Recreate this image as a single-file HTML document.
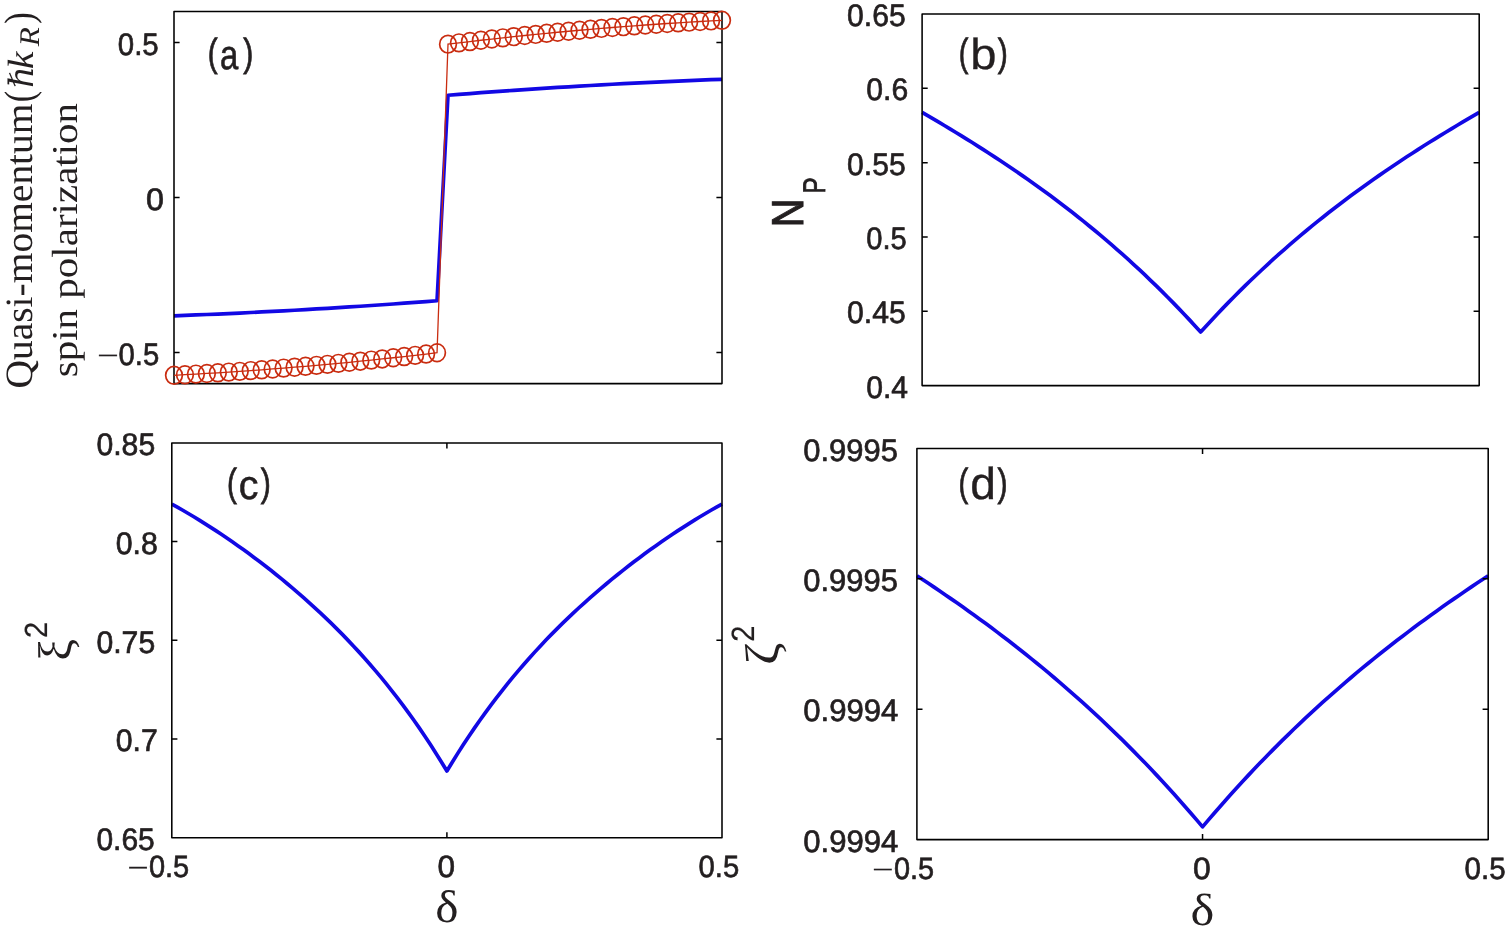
<!DOCTYPE html>
<html lang="en"><head><meta charset="utf-8"><title>Figure</title>
<style>html,body{margin:0;padding:0;background:#fff;overflow:hidden}svg{display:block}</style>
</head><body>
<svg width="1509" height="931" viewBox="0 0 1509 931" text-rendering="geometricPrecision">
<rect width="1509" height="931" fill="#fff"/>
<g id="panel-a">
<polyline points="174.00,315.81 184.96,315.39 195.92,314.96 206.88,314.51 217.84,314.04 228.80,313.55 239.76,313.04 250.72,312.52 261.68,311.97 272.64,311.41 283.60,310.83 294.56,310.23 305.52,309.61 316.48,308.97 327.44,308.31 338.40,307.64 349.36,306.94 360.32,306.23 371.28,305.50 382.24,304.75 393.20,303.98 404.16,303.19 415.12,302.39 426.08,301.56 437.04,300.72 448.00,95.24 458.96,94.38 469.92,93.54 480.88,92.71 491.84,91.91 502.80,91.12 513.76,90.35 524.72,89.60 535.68,88.87 546.64,88.16 557.60,87.46 568.56,86.79 579.52,86.13 590.48,85.49 601.44,84.87 612.40,84.27 623.36,83.69 634.32,83.13 645.28,82.58 656.24,82.06 667.20,81.55 678.16,81.06 689.12,80.59 700.08,80.14 711.04,79.71 722.00,79.29" fill="none" stroke="#1208e4" stroke-width="3.7" stroke-linejoin="round"/>
<rect x="174.00" y="11.50" width="548.00" height="372.10" fill="none" stroke="#000" stroke-width="1.55" stroke-linejoin="round"/>
<path d="M174.00 42.51h5.6M722.00 42.51h-5.6M174.00 197.55h5.6M722.00 197.55h-5.6M174.00 352.59h5.6M722.00 352.59h-5.6" fill="none" stroke="#000" stroke-width="1.5"/>
<polyline points="174.00,375.30 184.96,374.72 195.92,374.11 206.88,373.47 217.84,372.80 228.80,372.10 239.76,371.36 250.72,370.59 261.68,369.80 272.64,368.97 283.60,368.11 294.56,367.21 305.52,366.29 316.48,365.34 327.44,364.35 338.40,363.33 349.36,362.28 360.32,361.20 371.28,360.09 382.24,358.95 393.20,357.77 404.16,356.57 415.12,355.33 426.08,354.06 437.04,352.76 448.00,44.17 458.96,42.84 469.92,41.54 480.88,40.27 491.84,39.03 502.80,37.83 513.76,36.65 524.72,35.51 535.68,34.40 546.64,33.32 557.60,32.27 568.56,31.25 579.52,30.26 590.48,29.31 601.44,28.39 612.40,27.49 623.36,26.63 634.32,25.80 645.28,25.01 656.24,24.24 667.20,23.50 678.16,22.80 689.12,22.13 700.08,21.49 711.04,20.88 722.00,20.30" fill="none" stroke="#c92c10" stroke-width="1.3"/>
<g fill="none" stroke="#c92c10" stroke-width="1.7"><ellipse cx="174.00" cy="375.30" rx="8.35" ry="8.85"/><ellipse cx="184.96" cy="374.72" rx="8.35" ry="8.85"/><ellipse cx="195.92" cy="374.11" rx="8.35" ry="8.85"/><ellipse cx="206.88" cy="373.47" rx="8.35" ry="8.85"/><ellipse cx="217.84" cy="372.80" rx="8.35" ry="8.85"/><ellipse cx="228.80" cy="372.10" rx="8.35" ry="8.85"/><ellipse cx="239.76" cy="371.36" rx="8.35" ry="8.85"/><ellipse cx="250.72" cy="370.59" rx="8.35" ry="8.85"/><ellipse cx="261.68" cy="369.80" rx="8.35" ry="8.85"/><ellipse cx="272.64" cy="368.97" rx="8.35" ry="8.85"/><ellipse cx="283.60" cy="368.11" rx="8.35" ry="8.85"/><ellipse cx="294.56" cy="367.21" rx="8.35" ry="8.85"/><ellipse cx="305.52" cy="366.29" rx="8.35" ry="8.85"/><ellipse cx="316.48" cy="365.34" rx="8.35" ry="8.85"/><ellipse cx="327.44" cy="364.35" rx="8.35" ry="8.85"/><ellipse cx="338.40" cy="363.33" rx="8.35" ry="8.85"/><ellipse cx="349.36" cy="362.28" rx="8.35" ry="8.85"/><ellipse cx="360.32" cy="361.20" rx="8.35" ry="8.85"/><ellipse cx="371.28" cy="360.09" rx="8.35" ry="8.85"/><ellipse cx="382.24" cy="358.95" rx="8.35" ry="8.85"/><ellipse cx="393.20" cy="357.77" rx="8.35" ry="8.85"/><ellipse cx="404.16" cy="356.57" rx="8.35" ry="8.85"/><ellipse cx="415.12" cy="355.33" rx="8.35" ry="8.85"/><ellipse cx="426.08" cy="354.06" rx="8.35" ry="8.85"/><ellipse cx="437.04" cy="352.76" rx="8.35" ry="8.85"/><ellipse cx="448.00" cy="44.17" rx="8.35" ry="8.85"/><ellipse cx="458.96" cy="42.84" rx="8.35" ry="8.85"/><ellipse cx="469.92" cy="41.54" rx="8.35" ry="8.85"/><ellipse cx="480.88" cy="40.27" rx="8.35" ry="8.85"/><ellipse cx="491.84" cy="39.03" rx="8.35" ry="8.85"/><ellipse cx="502.80" cy="37.83" rx="8.35" ry="8.85"/><ellipse cx="513.76" cy="36.65" rx="8.35" ry="8.85"/><ellipse cx="524.72" cy="35.51" rx="8.35" ry="8.85"/><ellipse cx="535.68" cy="34.40" rx="8.35" ry="8.85"/><ellipse cx="546.64" cy="33.32" rx="8.35" ry="8.85"/><ellipse cx="557.60" cy="32.27" rx="8.35" ry="8.85"/><ellipse cx="568.56" cy="31.25" rx="8.35" ry="8.85"/><ellipse cx="579.52" cy="30.26" rx="8.35" ry="8.85"/><ellipse cx="590.48" cy="29.31" rx="8.35" ry="8.85"/><ellipse cx="601.44" cy="28.39" rx="8.35" ry="8.85"/><ellipse cx="612.40" cy="27.49" rx="8.35" ry="8.85"/><ellipse cx="623.36" cy="26.63" rx="8.35" ry="8.85"/><ellipse cx="634.32" cy="25.80" rx="8.35" ry="8.85"/><ellipse cx="645.28" cy="25.01" rx="8.35" ry="8.85"/><ellipse cx="656.24" cy="24.24" rx="8.35" ry="8.85"/><ellipse cx="667.20" cy="23.50" rx="8.35" ry="8.85"/><ellipse cx="678.16" cy="22.80" rx="8.35" ry="8.85"/><ellipse cx="689.12" cy="22.13" rx="8.35" ry="8.85"/><ellipse cx="700.08" cy="21.49" rx="8.35" ry="8.85"/><ellipse cx="711.04" cy="20.88" rx="8.35" ry="8.85"/><ellipse cx="722.00" cy="20.30" rx="8.35" ry="8.85"/></g>
</g>
<g id="panel-b">
<polyline points="922.10,112.31 927.67,115.56 933.24,118.84 938.81,122.14 944.38,125.47 949.96,128.82 955.53,132.21 961.10,135.62 966.67,139.07 972.24,142.55 977.81,146.06 983.38,149.61 988.95,153.20 994.52,156.83 1000.09,160.50 1005.67,164.21 1011.24,167.97 1016.81,171.77 1022.38,175.62 1027.95,179.51 1033.52,183.45 1039.09,187.45 1044.66,191.50 1050.23,195.60 1055.80,199.76 1061.38,203.97 1066.95,208.24 1072.52,212.57 1078.09,216.97 1083.66,221.42 1089.23,225.94 1094.80,230.53 1100.37,235.18 1105.94,239.90 1111.51,244.69 1117.09,249.55 1122.66,254.48 1128.23,259.49 1133.80,264.57 1139.37,269.73 1144.94,274.97 1150.51,280.29 1156.08,285.69 1161.65,291.17 1167.22,296.74 1172.80,302.40 1178.37,308.14 1183.94,313.97 1189.51,319.89 1195.08,325.90 1200.65,332.00 1206.22,325.90 1211.79,319.89 1217.36,313.97 1222.93,308.14 1228.51,302.40 1234.08,296.74 1239.65,291.17 1245.22,285.69 1250.79,280.29 1256.36,274.97 1261.93,269.73 1267.50,264.57 1273.07,259.49 1278.64,254.48 1284.22,249.55 1289.79,244.69 1295.36,239.90 1300.93,235.18 1306.50,230.53 1312.07,225.94 1317.64,221.42 1323.21,216.97 1328.78,212.57 1334.35,208.24 1339.93,203.97 1345.50,199.76 1351.07,195.60 1356.64,191.50 1362.21,187.45 1367.78,183.45 1373.35,179.51 1378.92,175.62 1384.49,171.77 1390.06,167.97 1395.63,164.21 1401.21,160.50 1406.78,156.83 1412.35,153.20 1417.92,149.61 1423.49,146.06 1429.06,142.55 1434.63,139.07 1440.20,135.62 1445.77,132.21 1451.35,128.82 1456.92,125.47 1462.49,122.14 1468.06,118.84 1473.63,115.56 1479.20,112.31" fill="none" stroke="#1208e4" stroke-width="3.7" stroke-linejoin="round"/>
<rect x="922.10" y="14.00" width="557.10" height="371.60" fill="none" stroke="#000" stroke-width="1.55" stroke-linejoin="round"/>
<path d="M922.10 311.28h5.6M1479.20 311.28h-5.6M922.10 236.96h5.6M1479.20 236.96h-5.6M922.10 162.64h5.6M1479.20 162.64h-5.6M922.10 88.32h5.6M1479.20 88.32h-5.6" fill="none" stroke="#000" stroke-width="1.5"/>
</g>
<g id="panel-c">
<polyline points="171.80,504.05 177.30,507.12 182.80,510.26 188.31,513.48 193.81,516.77 199.31,520.14 204.81,523.58 210.31,527.08 215.82,530.66 221.32,534.31 226.82,538.03 232.32,541.81 237.82,545.67 243.33,549.60 248.83,553.60 254.33,557.67 259.83,561.81 265.33,566.03 270.84,570.33 276.34,574.71 281.84,579.16 287.34,583.71 292.84,588.33 298.35,593.05 303.85,597.86 309.35,602.76 314.85,607.76 320.35,612.87 325.86,618.08 331.36,623.41 336.86,628.85 342.36,634.41 347.86,640.10 353.37,645.92 358.87,651.87 364.37,657.96 369.87,664.21 375.37,670.61 380.88,677.16 386.38,683.89 391.88,690.79 397.38,697.87 402.88,705.13 408.39,712.60 413.89,720.26 419.39,728.14 424.89,736.24 430.39,744.57 435.90,753.13 441.40,761.94 446.90,771.00 452.40,761.94 457.90,753.13 463.41,744.57 468.91,736.24 474.41,728.14 479.91,720.26 485.41,712.60 490.92,705.13 496.42,697.87 501.92,690.79 507.42,683.89 512.92,677.16 518.43,670.61 523.93,664.21 529.43,657.96 534.93,651.87 540.43,645.92 545.94,640.10 551.44,634.41 556.94,628.85 562.44,623.41 567.94,618.08 573.45,612.87 578.95,607.76 584.45,602.76 589.95,597.86 595.45,593.05 600.96,588.33 606.46,583.71 611.96,579.16 617.46,574.71 622.96,570.33 628.47,566.03 633.97,561.81 639.47,557.67 644.97,553.60 650.47,549.60 655.98,545.67 661.48,541.81 666.98,538.03 672.48,534.31 677.98,530.66 683.49,527.08 688.99,523.58 694.49,520.14 699.99,516.77 705.49,513.48 711.00,510.26 716.50,507.12 722.00,504.05" fill="none" stroke="#1208e4" stroke-width="3.7" stroke-linejoin="round"/>
<rect x="171.80" y="442.90" width="550.20" height="394.90" fill="none" stroke="#000" stroke-width="1.55" stroke-linejoin="round"/>
<path d="M171.80 739.08h5.6M722.00 739.08h-5.6M171.80 640.35h5.6M722.00 640.35h-5.6M171.80 541.62h5.6M722.00 541.62h-5.6M446.90 442.90v5.6M446.90 837.80v-5.6" fill="none" stroke="#000" stroke-width="1.5"/>
</g>
<g id="panel-d">
<polyline points="916.90,575.73 922.61,579.50 928.33,583.30 934.04,587.14 939.75,591.01 945.46,594.91 951.18,598.86 956.89,602.84 962.60,606.86 968.32,610.92 974.03,615.02 979.74,619.17 985.46,623.36 991.17,627.59 996.88,631.87 1002.60,636.20 1008.31,640.57 1014.02,645.00 1019.73,649.48 1025.45,654.01 1031.16,658.59 1036.87,663.23 1042.59,667.92 1048.30,672.67 1054.01,677.48 1059.72,682.35 1065.44,687.28 1071.15,692.27 1076.86,697.32 1082.58,702.44 1088.29,707.63 1094.00,712.88 1099.72,718.20 1105.43,723.58 1111.14,729.04 1116.86,734.57 1122.57,740.17 1128.28,745.85 1133.99,751.60 1139.71,757.43 1145.42,763.33 1151.13,769.31 1156.85,775.38 1162.56,781.52 1168.27,787.75 1173.99,794.06 1179.70,800.45 1185.41,806.93 1191.12,813.50 1196.84,820.16 1202.55,826.90 1208.26,820.16 1213.98,813.50 1219.69,806.93 1225.40,800.45 1231.12,794.06 1236.83,787.75 1242.54,781.52 1248.25,775.38 1253.97,769.31 1259.68,763.33 1265.39,757.43 1271.11,751.60 1276.82,745.85 1282.53,740.17 1288.25,734.57 1293.96,729.04 1299.67,723.58 1305.38,718.20 1311.10,712.88 1316.81,707.63 1322.52,702.44 1328.24,697.32 1333.95,692.27 1339.66,687.28 1345.38,682.35 1351.09,677.48 1356.80,672.67 1362.51,667.92 1368.23,663.23 1373.94,658.59 1379.65,654.01 1385.37,649.48 1391.08,645.00 1396.79,640.57 1402.51,636.20 1408.22,631.87 1413.93,627.59 1419.64,623.36 1425.36,619.17 1431.07,615.02 1436.78,610.92 1442.50,606.86 1448.21,602.84 1453.92,598.86 1459.64,594.91 1465.35,591.01 1471.06,587.14 1476.77,583.30 1482.49,579.50 1488.20,575.73" fill="none" stroke="#1208e4" stroke-width="3.7" stroke-linejoin="round"/>
<rect x="916.90" y="448.40" width="571.30" height="391.20" fill="none" stroke="#000" stroke-width="1.55" stroke-linejoin="round"/>
<path d="M916.90 709.20h5.6M1488.20 709.20h-5.6M916.90 578.80h5.6M1488.20 578.80h-5.6M1202.55 448.40v5.6M1202.55 839.60v-5.6" fill="none" stroke="#000" stroke-width="1.5"/>
</g>
<g id="ticklabels">
<text transform="translate(117.78,54.68) scale(0.9200,0.9745)" font-family='"Liberation Sans", sans-serif' font-size="32" stroke="#231f20" stroke-width="0.7" fill="#231f20">0.5</text>
<text transform="translate(146.09,209.72) scale(1.0095,0.9745)" font-family='"Liberation Sans", sans-serif' font-size="32" stroke="#231f20" stroke-width="0.7" fill="#231f20">0</text>
<text transform="translate(118.58,364.76) scale(0.9153,0.9745)" font-family='"Liberation Sans", sans-serif' font-size="32" stroke="#231f20" stroke-width="0.7" fill="#231f20"><tspan x="-24.71" font-family="DejaVu Sans, sans-serif" font-weight="200" font-size="31.29" stroke-width="0.35">−</tspan><tspan x="0">0.5</tspan></text>
<text transform="translate(847.06,26.17) scale(0.9411,0.9745)" font-family='"Liberation Sans", sans-serif' font-size="32" stroke="#231f20" stroke-width="0.7" fill="#231f20">0.65</text>
<text transform="translate(866.26,100.49) scale(0.9412,0.9745)" font-family='"Liberation Sans", sans-serif' font-size="32" stroke="#231f20" stroke-width="0.7" fill="#231f20">0.6</text>
<text transform="translate(847.06,174.81) scale(0.9427,0.9745)" font-family='"Liberation Sans", sans-serif' font-size="32" stroke="#231f20" stroke-width="0.7" fill="#231f20">0.55</text>
<text transform="translate(866.29,249.13) scale(0.9106,0.9745)" font-family='"Liberation Sans", sans-serif' font-size="32" stroke="#231f20" stroke-width="0.7" fill="#231f20">0.5</text>
<text transform="translate(847.06,323.45) scale(0.9427,0.9745)" font-family='"Liberation Sans", sans-serif' font-size="32" stroke="#231f20" stroke-width="0.7" fill="#231f20">0.45</text>
<text transform="translate(866.26,397.77) scale(0.9395,0.9745)" font-family='"Liberation Sans", sans-serif' font-size="32" stroke="#231f20" stroke-width="0.7" fill="#231f20">0.4</text>
<text transform="translate(96.46,455.07) scale(0.9427,0.9745)" font-family='"Liberation Sans", sans-serif' font-size="32" stroke="#231f20" stroke-width="0.7" fill="#231f20">0.85</text>
<text transform="translate(115.75,553.79) scale(0.9459,0.9745)" font-family='"Liberation Sans", sans-serif' font-size="32" stroke="#231f20" stroke-width="0.7" fill="#231f20">0.8</text>
<text transform="translate(96.46,652.52) scale(0.9427,0.9745)" font-family='"Liberation Sans", sans-serif' font-size="32" stroke="#231f20" stroke-width="0.7" fill="#231f20">0.75</text>
<text transform="translate(115.76,751.24) scale(0.9444,0.9745)" font-family='"Liberation Sans", sans-serif' font-size="32" stroke="#231f20" stroke-width="0.7" fill="#231f20">0.7</text>
<text transform="translate(96.46,849.97) scale(0.9361,0.9745)" font-family='"Liberation Sans", sans-serif' font-size="32" stroke="#231f20" stroke-width="0.7" fill="#231f20">0.65</text>
<text transform="translate(148.89,877.08) scale(0.9059,0.9617)" font-family='"Liberation Sans", sans-serif' font-size="32" stroke="#231f20" stroke-width="0.7" fill="#231f20"><tspan x="-25.03" font-family="DejaVu Sans, sans-serif" font-weight="200" font-size="31.09" stroke-width="0.35">−</tspan><tspan x="0">0.5</tspan></text>
<text transform="translate(437.62,877.08) scale(0.9841,0.9617)" font-family='"Liberation Sans", sans-serif' font-size="32" stroke="#231f20" stroke-width="0.7" fill="#231f20">0</text>
<text transform="translate(698.54,877.08) scale(0.9141,0.9617)" font-family='"Liberation Sans", sans-serif' font-size="32" stroke="#231f20" stroke-width="0.7" fill="#231f20">0.5</text>
<text transform="translate(803.23,460.57) scale(0.9681,0.9745)" font-family='"Liberation Sans", sans-serif' font-size="32" stroke="#231f20" stroke-width="0.7" fill="#231f20">0.9995</text>
<text transform="translate(803.23,590.97) scale(0.9681,0.9745)" font-family='"Liberation Sans", sans-serif' font-size="32" stroke="#231f20" stroke-width="0.7" fill="#231f20">0.9995</text>
<text transform="translate(803.23,721.37) scale(0.9725,0.9745)" font-family='"Liberation Sans", sans-serif' font-size="32" stroke="#231f20" stroke-width="0.7" fill="#231f20">0.9994</text>
<text transform="translate(803.23,851.77) scale(0.9725,0.9745)" font-family='"Liberation Sans", sans-serif' font-size="32" stroke="#231f20" stroke-width="0.7" fill="#231f20">0.9994</text>
<text transform="translate(893.90,879.28) scale(0.9035,0.9617)" font-family='"Liberation Sans", sans-serif' font-size="32" stroke="#231f20" stroke-width="0.7" fill="#231f20"><tspan x="-25.23" font-family="DejaVu Sans, sans-serif" font-weight="200" font-size="31.34" stroke-width="0.35">−</tspan><tspan x="0">0.5</tspan></text>
<text transform="translate(1193.10,879.28) scale(0.9968,0.9617)" font-family='"Liberation Sans", sans-serif' font-size="32" stroke="#231f20" stroke-width="0.7" fill="#231f20">0</text>
<text transform="translate(1464.58,879.28) scale(0.9224,0.9617)" font-family='"Liberation Sans", sans-serif' font-size="32" stroke="#231f20" stroke-width="0.7" fill="#231f20">0.5</text>
</g>
<g id="panel-labels">
<g><text transform="translate(207.69,66.10) scale(0.6731,0.8898)" font-family='"Liberation Sans", sans-serif' font-size="44" stroke="#231f20" stroke-width="0.9" fill="#231f20">(</text><text transform="translate(220.08,68.75) scale(0.7462,0.9394)" font-family='"Liberation Sans", sans-serif' font-size="44" stroke="#231f20" stroke-width="0.7" fill="#231f20">a</text><text transform="translate(243.14,66.10) scale(0.6863,0.8898)" font-family='"Liberation Sans", sans-serif' font-size="44" stroke="#231f20" stroke-width="0.9" fill="#231f20">)</text></g>
<g><text transform="translate(958.72,66.10) scale(0.6577,0.8898)" font-family='"Liberation Sans", sans-serif' font-size="44" stroke="#231f20" stroke-width="0.9" fill="#231f20">(</text><text transform="translate(970.35,68.96) scale(1.0725,0.9862)" font-family='"Liberation Sans", sans-serif' font-size="44" stroke="#231f20" stroke-width="0.3" fill="#231f20">b</text><text transform="translate(997.84,66.10) scale(0.6863,0.8898)" font-family='"Liberation Sans", sans-serif' font-size="44" stroke="#231f20" stroke-width="0.9" fill="#231f20">)</text></g>
<g><text transform="translate(226.99,496.10) scale(0.6731,0.8898)" font-family='"Liberation Sans", sans-serif' font-size="44" stroke="#231f20" stroke-width="0.9" fill="#231f20">(</text><text transform="translate(238.73,498.75) scale(0.8961,0.9354)" font-family='"Liberation Sans", sans-serif' font-size="44" stroke="#231f20" stroke-width="0.5" fill="#231f20">c</text><text transform="translate(260.84,496.10) scale(0.6863,0.8898)" font-family='"Liberation Sans", sans-serif' font-size="44" stroke="#231f20" stroke-width="0.9" fill="#231f20">)</text></g>
<g><text transform="translate(958.50,496.10) scale(0.6654,0.8898)" font-family='"Liberation Sans", sans-serif' font-size="44" stroke="#231f20" stroke-width="0.9" fill="#231f20">(</text><text transform="translate(970.17,498.94) scale(1.0475,1.0231)" font-family='"Liberation Sans", sans-serif' font-size="44" stroke="#231f20" stroke-width="0.3" fill="#231f20">d</text><text transform="translate(997.44,496.10) scale(0.6863,0.8898)" font-family='"Liberation Sans", sans-serif' font-size="44" stroke="#231f20" stroke-width="0.9" fill="#231f20">)</text></g>
</g>
<g id="axis-labels">
<g><text transform="translate(31.78,388.55) rotate(-90) scale(1.0670,1.0443)" font-family='"Liberation Serif", "DejaVu Serif", serif' font-size="37" fill="#231f20">Quasi-momentum</text><text transform="translate(33.27,102.17) rotate(-90) scale(0.9243,1.1203)" font-family='"Liberation Serif", "DejaVu Serif", serif' font-size="37" fill="#231f20">(</text><text transform="translate(32.95,88.05) rotate(-90) scale(0.9162,0.9089)" font-family="DejaVu Serif, serif" font-size="37" font-style="italic" fill="#231f20">ℏ</text><text transform="translate(32.95,68.91) rotate(-90) scale(1.0594,0.9883)" font-family='"Liberation Serif", "DejaVu Serif", serif' font-size="37" font-style="italic" fill="#231f20">k</text><text transform="translate(39.15,46.35) rotate(-90) scale(1.1968,1.0971)" font-family='"Liberation Serif", "DejaVu Serif", serif' font-size="26" font-style="italic" fill="#231f20">R</text><text transform="translate(33.27,23.83) rotate(-90) scale(0.9421,1.1203)" font-family='"Liberation Serif", "DejaVu Serif", serif' font-size="37" fill="#231f20">)</text></g>
<text transform="translate(77.03,377.21) rotate(-90) scale(1.1077,0.9836)" font-family='"Liberation Serif", "DejaVu Serif", serif' font-size="37" fill="#231f20">spin polarization</text>
<g><text transform="translate(802.94,227.36) rotate(-90) scale(0.9029,1.0128)" font-family='"Liberation Sans", sans-serif' font-size="44" stroke="#231f20" stroke-width="1.1" fill="#231f20">N</text><text transform="translate(825.26,193.55) rotate(-90) scale(0.7577,0.9761)" font-family='"Liberation Sans", sans-serif' font-size="32" stroke="#231f20" stroke-width="0.9" fill="#231f20">P</text></g>
<g><text transform="translate(71.14,660.68) rotate(-90) scale(1.0657,1.0263)" font-family='"Liberation Serif", "DejaVu Serif", serif' font-size="46" fill="#231f20">ξ</text><text transform="translate(46.95,638.12) rotate(-90) scale(0.9119,1.0022)" font-family='"Liberation Sans", sans-serif' font-size="32" stroke="#231f20" stroke-width="0.2" fill="#231f20">2</text></g>
<g><text transform="translate(778.23,665.02) rotate(-90) scale(1.1844,1.0273)" font-family='"Liberation Serif", "DejaVu Serif", serif' font-size="46" fill="#231f20">ζ</text><text transform="translate(753.85,641.81) rotate(-90) scale(0.9051,1.0067)" font-family='"Liberation Sans", sans-serif' font-size="32" stroke="#231f20" stroke-width="0.2" fill="#231f20">2</text></g>
<text transform="translate(435.33,922.15) scale(1.0712,0.9923)" font-family='"Liberation Serif", "DejaVu Serif", serif' font-size="46" fill="#231f20">δ</text>
<text transform="translate(1190.38,924.56) scale(1.0986,0.9831)" font-family='"Liberation Serif", "DejaVu Serif", serif' font-size="46" fill="#231f20">δ</text>
</g>
</svg>
</body></html>
